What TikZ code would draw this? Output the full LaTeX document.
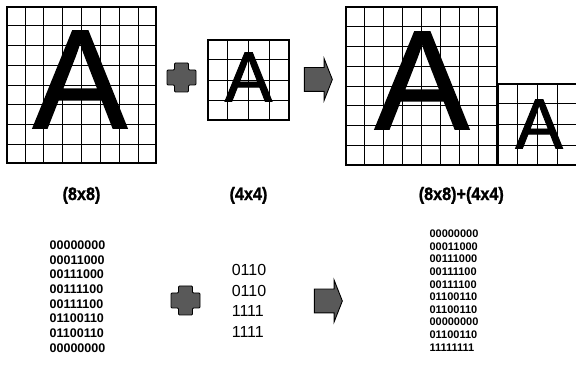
\documentclass[tikz,border=0pt]{standalone}
\usepackage{fontspec}
\setmainfont{Liberation Sans}
\newfontfamily\letterfont{Liberation Sans}[FakeBold=1.3]
\newfontfamily\labelfont{Liberation Sans Bold}[FakeBold=1.2, FakeStretch=0.9]
\usepackage{tikz}
\usetikzlibrary{positioning,shapes.arrows,calc}

\begin{document}
\begin{tikzpicture}[
    x=1pt, y=1pt,
    frame/.style={rectangle, draw=black, line width=1.6pt, inner sep=0pt},
    cellline/.style={draw=black, line width=0.9pt},
    bigletter/.style={inner sep=0pt, font=\letterfont\fontsize{141}{141}\selectfont},
    smallletter/.style={inner sep=0pt, font=\letterfont\fontsize{71}{71}\selectfont},
    sizelabel/.style={inner sep=0pt, font=\labelfont\fontsize{18}{18}\selectfont},
    bits/.style={inner sep=0pt, align=left},
    plussign/.style={draw=black, fill=black!65, line width=0.9pt, rounded corners=1pt},
    blockarrow/.style={single arrow, draw=black, fill=black!65, line width=0.9pt,
                       minimum height=28pt, minimum width=41pt,
                       inner xsep=0pt, inner ysep=11.5pt,
                       single arrow head extend=9pt, single arrow tip angle=137},
]
\useasboundingbox (0,0) rectangle (576,367);

% pixel grids
\node[frame, minimum width=149pt, minimum height=156pt] (big1) at (81.5,282) {};
\node[frame, minimum width=81pt, minimum height=80pt] (small1) at (248.5,287) {};
\node[frame, minimum width=151pt, minimum height=158pt] (big2) at (421.5,281) {};
\node[frame, minimum width=78pt, minimum height=81pt, anchor=south west] (small2) at (big2.south east) {};

\foreach \g/\n in {big1/8, small1/4, big2/8, small2/4}{
  \pgfmathtruncatemacro\m{\n-1}
  \foreach \k in {1,...,\m}{
    \draw[cellline] ($(\g.south west)!\k/\n!(\g.south east)$) -- ($(\g.north west)!\k/\n!(\g.north east)$);
    \draw[cellline] ($(\g.south west)!\k/\n!(\g.north west)$) -- ($(\g.south east)!\k/\n!(\g.north east)$);
  }
}

% letters
\node[bigletter] (A1) at ($(big1.center)+(-1.5,5.5)$) {A};
\node[smallletter] (A2) at ($(small1.center)+(0,3)$) {A};
\node[bigletter] (A3) at ($(big2.center)+(0.5,5.5)$) {A};
\node[smallletter] (A4) at ($(small2.center)+(1.5,0.5)$) {A};

% size labels
\coordinate (pairmid) at ($(big2.west)!0.5!(small2.east)$);
\node[sizelabel, below=23pt of big1] (lab1) {(8x8)};
\node[sizelabel] (lab2) at (small1 |- lab1) {(4x4)};
\node[sizelabel] (lab3) at (pairmid |- lab1) {(8x8)+(4x4)};

% plus signs and arrows
\foreach \px/\py in {181.5/289.5, 185.5/66.5}{
  \draw[plussign, shift={(\px,\py)}]
    (-7,14.5) -- (7,14.5) -- (7,7.5) -- (14.5,7.5) -- (14.5,-7.5) -- (7,-7.5)
    -- (7,-14.5) -- (-7,-14.5) -- (-7,-7.5) -- (-14.5,-7.5) -- (-14.5,7.5) -- (-7,7.5) -- cycle;
}
\node[blockarrow] (arr1) at (316,287.5) {};
\node[blockarrow] (arr2) at (326,66) {};

% bit patterns
\node[bits, font=\fontsize{12.5}{14.7}\selectfont\bfseries] (bin1) at (77.5,70.5)
  {00000000\\00011000\\00111000\\00111100\\00111100\\01100110\\01100110\\00000000};
\node[bits, font=\fontsize{16}{20.7}\selectfont] (bin2) at (249,66)
  {0110\\0110\\1111\\1111};
\node[bits, font=\fontsize{11}{12.6}\selectfont\bfseries] (bin3) at (454,76.5)
  {00000000\\00011000\\00111000\\00111100\\00111100\\01100110\\01100110\\00000000\\01100110\\11111111};
\end{tikzpicture}
\end{document}
